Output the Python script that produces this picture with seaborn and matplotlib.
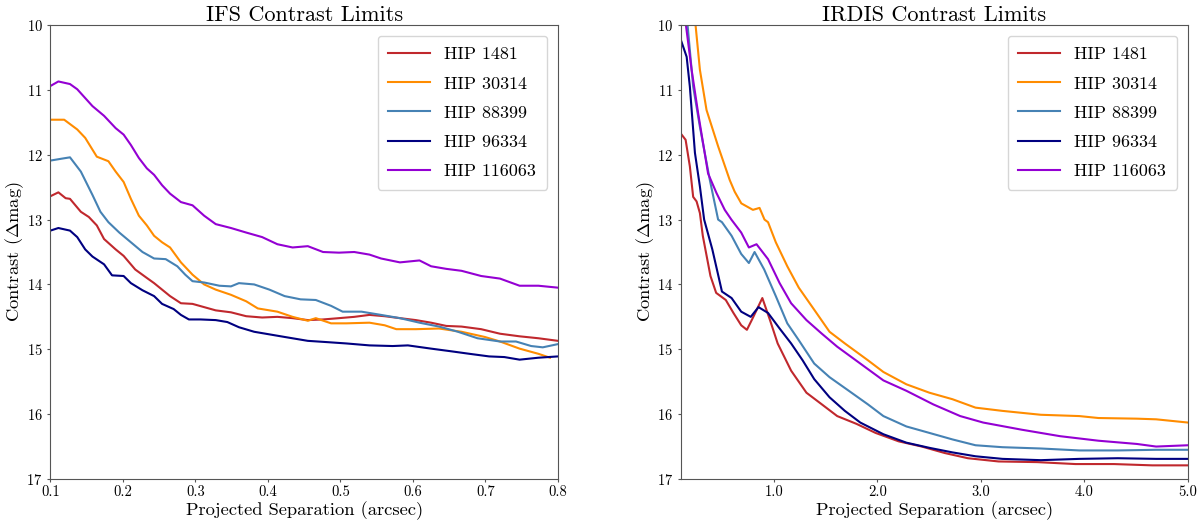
import matplotlib
matplotlib.use('Agg')
import matplotlib.pyplot as plt
import seaborn as sns
import pandas as pd
from matplotlib.ticker import FormatStrFormatter

stars = ['HIP 1481', 'HIP 30314', 'HIP 88399', 'HIP 96334', 'HIP 116063']
colors = ['#c0282d', 'darkorange', 'steelblue', 'navy', 'darkviolet']

### IFS curves (separation in arcsec, contrast in delta mag) ###
ifs_sep_1481 = [0.1, 0.111, 0.121, 0.127, 0.142, 0.153, 0.164, 0.174, 0.19, 0.201, 0.217, 0.233, 0.243, 0.254,
                0.265, 0.28, 0.296, 0.312, 0.328, 0.349, 0.37, 0.392, 0.413, 0.434, 0.455, 0.476, 0.498, 0.519,
                0.54, 0.561, 0.582, 0.604, 0.625, 0.646, 0.667, 0.694, 0.72, 0.747, 0.773, 0.8]
ifs_con_1481 = [12.64, 12.58, 12.67, 12.68, 12.88, 12.96, 13.09, 13.3, 13.46, 13.56, 13.77, 13.9, 13.98, 14.08,
                14.18, 14.29, 14.3, 14.35, 14.4, 14.43, 14.49, 14.51, 14.5, 14.52, 14.55, 14.54, 14.52, 14.5,
                14.47, 14.49, 14.52, 14.55, 14.59, 14.64, 14.65, 14.69, 14.76, 14.8, 14.83, 14.87]

ifs_sep_30314 = [0.1, 0.119, 0.137, 0.148, 0.164, 0.18, 0.19, 0.201, 0.211, 0.222, 0.233, 0.243, 0.254, 0.265,
                 0.28, 0.296, 0.312, 0.328, 0.349, 0.37, 0.386, 0.413, 0.434, 0.455, 0.466, 0.487, 0.508, 0.54,
                 0.561, 0.577, 0.604, 0.636, 0.667, 0.699, 0.72, 0.747, 0.773, 0.789]
ifs_con_30314 = [11.46, 11.46, 11.61, 11.74, 12.03, 12.1, 12.26, 12.42, 12.68, 12.94, 13.09, 13.25, 13.35, 13.43,
                 13.66, 13.85, 14.0, 14.08, 14.16, 14.26, 14.37, 14.42, 14.5, 14.56, 14.52, 14.6, 14.6, 14.59,
                 14.63, 14.69, 14.69, 14.68, 14.73, 14.81, 14.88, 14.99, 15.07, 15.13]

ifs_sep_88399 = [0.1, 0.116, 0.127, 0.142, 0.158, 0.169, 0.18, 0.195, 0.211, 0.227, 0.243, 0.259, 0.275, 0.286,
                 0.296, 0.312, 0.333, 0.349, 0.36, 0.381, 0.402, 0.423, 0.445, 0.466, 0.487, 0.503, 0.529, 0.556,
                 0.582, 0.609, 0.636, 0.662, 0.689, 0.72, 0.742, 0.763, 0.779, 0.8]
ifs_con_88399 = [12.09, 12.06, 12.04, 12.26, 12.62, 12.88, 13.04, 13.2, 13.35, 13.5, 13.6, 13.61, 13.72, 13.85,
                 13.95, 13.97, 14.02, 14.03, 13.98, 14.0, 14.08, 14.18, 14.23, 14.24, 14.33, 14.42, 14.42, 14.47,
                 14.52, 14.59, 14.65, 14.73, 14.83, 14.88, 14.88, 14.95, 14.97, 14.92]

ifs_sep_96334 = [0.1, 0.111, 0.127, 0.137, 0.148, 0.158, 0.174, 0.185, 0.201, 0.211, 0.227, 0.243, 0.254, 0.27,
                 0.28, 0.291, 0.307, 0.328, 0.344, 0.36, 0.381, 0.402, 0.423, 0.455, 0.482, 0.508, 0.54, 0.572,
                 0.593, 0.625, 0.652, 0.678, 0.705, 0.726, 0.747, 0.773, 0.8]
ifs_con_96334 = [13.17, 13.13, 13.17, 13.27, 13.46, 13.57, 13.69, 13.86, 13.87, 13.98, 14.09, 14.18, 14.3, 14.38,
                 14.47, 14.54, 14.54, 14.55, 14.58, 14.66, 14.73, 14.77, 14.81, 14.87, 14.89, 14.91, 14.94, 14.95,
                 14.94, 14.99, 15.03, 15.07, 15.11, 15.12, 15.16, 15.13, 15.11]

ifs_sep_116063 = [0.1, 0.111, 0.127, 0.137, 0.158, 0.174, 0.19, 0.201, 0.211, 0.222, 0.233, 0.243, 0.254, 0.265,
                  0.28, 0.296, 0.312, 0.328, 0.349, 0.37, 0.392, 0.413, 0.434, 0.455, 0.476, 0.498, 0.519, 0.54,
                  0.556, 0.582, 0.609, 0.625, 0.646, 0.667, 0.694, 0.72, 0.747, 0.773, 0.8]
ifs_con_116063 = [10.94, 10.87, 10.91, 10.99, 11.25, 11.4, 11.59, 11.69, 11.85, 12.05, 12.21, 12.31, 12.47, 12.6,
                  12.73, 12.78, 12.94, 13.07, 13.13, 13.2, 13.27, 13.38, 13.43, 13.41, 13.5, 13.51, 13.5, 13.54,
                  13.6, 13.66, 13.63, 13.72, 13.76, 13.79, 13.87, 13.91, 14.02, 14.02, 14.05]

### IRDIS curves ###
irdis_sep_1481 = [0.1, 0.148, 0.189, 0.221, 0.254, 0.286, 0.314, 0.388, 0.443, 0.536, 0.61, 0.685, 0.74, 0.796,
                  0.889, 0.963, 1.037, 1.167, 1.315, 1.464, 1.612, 1.798, 1.983, 2.206, 2.429, 2.651, 2.874,
                  3.171, 3.542, 3.913, 4.284, 4.655, 5.0]
irdis_con_1481 = [11.67, 11.77, 12.18, 12.65, 12.72, 12.9, 13.25, 13.87, 14.13, 14.24, 14.44, 14.63, 14.7, 14.52,
                  14.21, 14.55, 14.91, 15.33, 15.67, 15.85, 16.03, 16.15, 16.29, 16.42, 16.5, 16.6, 16.68,
                  16.73, 16.74, 16.77, 16.77, 16.79, 16.79]

irdis_sep_30314 = [0.22, 0.244, 0.286, 0.35, 0.462, 0.574, 0.622, 0.686, 0.798, 0.862, 0.91, 0.944, 1.019, 1.13,
                   1.241, 1.39, 1.538, 1.686, 1.909, 2.058, 2.28, 2.503, 2.725, 2.948, 3.208, 3.579, 3.95, 4.135,
                   4.506, 4.692, 5.0]
irdis_con_30314 = [9.7, 10.0, 10.69, 11.31, 11.87, 12.39, 12.57, 12.75, 12.85, 12.82, 13.0, 13.04, 13.35, 13.72,
                   14.05, 14.39, 14.73, 14.91, 15.17, 15.35, 15.54, 15.67, 15.77, 15.9, 15.95, 16.01, 16.03, 16.06,
                   16.07, 16.08, 16.13]

irdis_sep_88399 = [0.14, 0.167, 0.221, 0.286, 0.382, 0.462, 0.499, 0.592, 0.685, 0.759, 0.814, 0.907, 1.019, 1.13,
                   1.241, 1.39, 1.538, 1.724, 1.909, 2.058, 2.28, 2.503, 2.725, 2.948, 3.208, 3.579, 3.95, 4.321,
                   4.692, 5.0]
irdis_con_88399 = [9.7, 10.0, 10.95, 11.57, 12.39, 13.0, 13.04, 13.25, 13.53, 13.67, 13.5, 13.77, 14.18, 14.6,
                   14.86, 15.22, 15.43, 15.64, 15.85, 16.03, 16.19, 16.29, 16.39, 16.48, 16.51, 16.53, 16.56, 16.56,
                   16.55, 16.55]

irdis_sep_96334 = [0.1, 0.158, 0.189, 0.238, 0.286, 0.327, 0.406, 0.499, 0.592, 0.685, 0.777, 0.852, 0.944, 1.056,
                   1.167, 1.278, 1.39, 1.538, 1.686, 1.835, 2.058, 2.28, 2.503, 2.725, 2.948, 3.208, 3.579, 3.95,
                   4.321, 4.692, 5.0]
irdis_con_96334 = [10.22, 10.49, 10.95, 11.97, 12.49, 13.0, 13.46, 14.11, 14.21, 14.42, 14.5, 14.35, 14.44, 14.68,
                   14.91, 15.17, 15.46, 15.74, 15.95, 16.13, 16.31, 16.44, 16.52, 16.59, 16.65, 16.69, 16.71, 16.69,
                   16.68, 16.69, 16.69]

irdis_sep_116063 = [0.13, 0.151, 0.206, 0.269, 0.365, 0.446, 0.526, 0.59, 0.685, 0.759, 0.833, 0.944, 1.056, 1.167,
                    1.315, 1.464, 1.612, 1.835, 2.058, 2.28, 2.54, 2.8, 3.022, 3.393, 3.764, 4.135, 4.506, 4.692,
                    5.0]
irdis_con_116063 = [9.7, 10.0, 10.69, 11.36, 12.29, 12.59, 12.85, 13.0, 13.2, 13.43, 13.38, 13.61, 13.98, 14.29,
                    14.55, 14.76, 14.96, 15.22, 15.48, 15.64, 15.85, 16.03, 16.13, 16.24, 16.34, 16.41, 16.46, 16.5,
                    16.48]


def long_table(seps, cons):
    frames = []
    for star, x, y in zip(stars, seps, cons):
        frames.append(pd.DataFrame({'sep': x, 'con': y, 'star': star}))
    return pd.concat(frames, ignore_index=True)


ifs = long_table([ifs_sep_1481, ifs_sep_30314, ifs_sep_88399, ifs_sep_96334, ifs_sep_116063],
                 [ifs_con_1481, ifs_con_30314, ifs_con_88399, ifs_con_96334, ifs_con_116063])
irdis = long_table([irdis_sep_1481, irdis_sep_30314, irdis_sep_88399, irdis_sep_96334, irdis_sep_116063],
                   [irdis_con_1481, irdis_con_30314, irdis_con_88399, irdis_con_96334, irdis_con_116063])

plt.rcParams['font.family'] = 'serif'
plt.rcParams['font.serif'] = ['cmr10', 'DejaVu Serif']
plt.rcParams['mathtext.fontset'] = 'cm'
plt.rcParams['axes.formatter.use_mathtext'] = True
plt.rcParams['axes.edgecolor'] = '#555555'

palette = dict(zip(stars, colors))

fig = plt.figure(figsize=(12, 5.26), dpi=100)
ax1 = fig.add_axes([0.042, 0.0894, 0.423, 0.863])
ax2 = fig.add_axes([0.5672, 0.0894, 0.4228, 0.863])

panels = [(ax1, ifs, 'IFS Contrast Limits', (0.1, 0.8), [0.1, 0.2, 0.3, 0.4, 0.5, 0.6, 0.7, 0.8]),
          (ax2, irdis, 'IRDIS Contrast Limits', (0.1, 5.0), [1.0, 2.0, 3.0, 4.0, 5.0])]

for ax, df, title, xlim, xticks in panels:
    sns.lineplot(data=df, x='sep', y='con', hue='star', hue_order=stars, palette=palette,
                 estimator=None, sort=False, linewidth=1.5, ax=ax)
    ax.set_xlim(*xlim)
    ax.set_ylim(17, 10)
    ax.set_xticks(xticks)
    ax.set_yticks(range(10, 18))
    ax.xaxis.set_major_formatter(FormatStrFormatter('%.1f'))
    ax.tick_params(labelsize=10.5, length=2.5, color='#555555')
    ax.tick_params(axis='x', pad=2)
    ax.tick_params(axis='y', pad=3)
    ax.set_title(title, fontsize=16, pad=2)
    ax.set_xlabel('Projected Separation (arcsec)', fontsize=13.3, labelpad=2)
    ax.set_ylabel(r'Contrast ($\Delta$mag)', fontsize=13.3, labelpad=0)
    ax.legend(loc='upper right', fontsize=13, handlelength=2.3, borderpad=0.6,
              labelspacing=0.75, borderaxespad=0.6)

fig.savefig('out.png', dpi=100)
